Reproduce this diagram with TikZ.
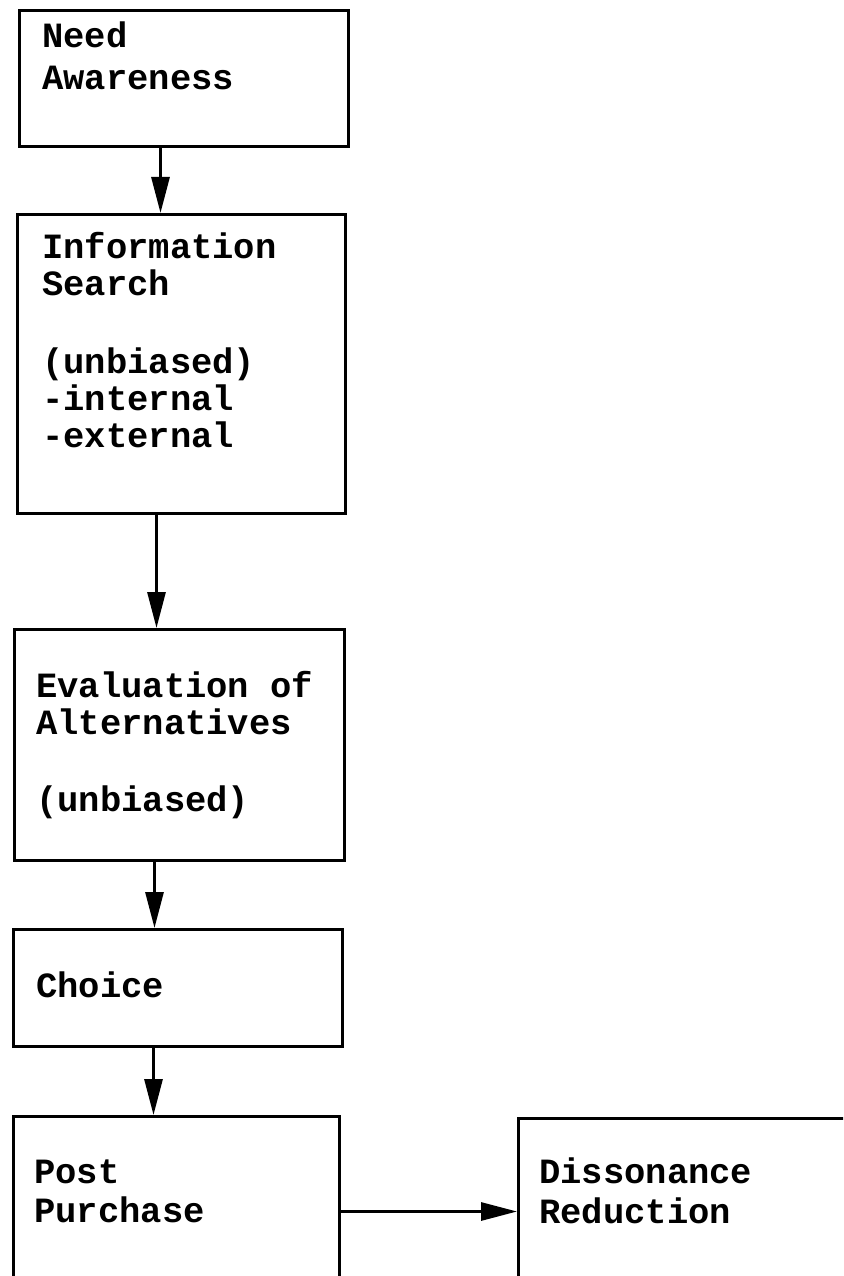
\documentclass[tikz,border=0pt]{standalone}
\usepackage{fontspec}
\newfontfamily\stagefont{Liberation Mono}
\usetikzlibrary{arrows.meta}

\begin{document}
\begin{tikzpicture}[x=1pt,y=-1pt,
    stage/.style={draw,line width=3pt,inner sep=0pt,anchor=north west},
    stagetext/.style={anchor=base west,inner sep=0pt,align=left,font=\stagefont\bfseries\fontsize{35.5}{37}\selectfont},
    flow/.style={line width=3pt,-{Triangle[length=36pt,width=18pt]}}]

    \useasboundingbox (0,0) rectangle (843,1276);
    \clip (0,0) rectangle (843,1276);

    % boxes
    \node[stage,minimum width=329pt,minimum height=136pt] (need) at (18,9) {};
    \node[stage,minimum width=328pt,minimum height=299pt] (info) at (16,213) {};
    \node[stage,minimum width=330pt,minimum height=231pt] (eval) at (13,628) {};
    \node[stage,minimum width=329pt,minimum height=117pt] (choice) at (12,928) {};
    \node[stage,minimum width=326pt,minimum height=190pt] (post) at (12,1115) {};
    \node[stage,minimum width=363pt,minimum height=186pt] (diss) at (517,1117) {};

    % texts (anchored at the baseline of their last line)
    \node[stagetext] (needtext) at ([shift={(24,81)}]need.north west) {Need\\[5pt]Awareness};
    \node[stagetext] (infotext) at ([shift={(26,234)}]info.north west) {Information\\Search\\[41pt](unbiased)\\-internal\\-external};
    \node[stagetext] (evaltext) at ([shift={(23,183)}]eval.north west) {Evaluation of\\Alternatives\\[40pt](unbiased)};
    \node[stagetext] (choicetext) at ([shift={(24,69)}]choice.north west) {Choice};
    \node[stagetext] (posttext) at ([shift={(22,107)}]post.north west) {Post\\[2pt]Purchase};
    \node[stagetext] (disstext) at ([shift={(22,106)}]diss.north west) {Dissonance\\[3pt]Reduction};

    % arrows
    \draw[flow] ([xshift=-23.5pt]need.south) -- ([xshift=-21pt]info.north);
    \draw[flow] ([xshift=-25pt]info.south) -- ([xshift=-23pt]eval.north);
    \draw[flow] ([xshift=-25pt]eval.south) -- ([xshift=-23.5pt]choice.north);
    \draw[flow] ([xshift=-24.5pt]choice.south) -- ([xshift=-23pt]post.north);
    \draw[flow] (post.east) -- (diss.west);

\end{tikzpicture}
\end{document}
